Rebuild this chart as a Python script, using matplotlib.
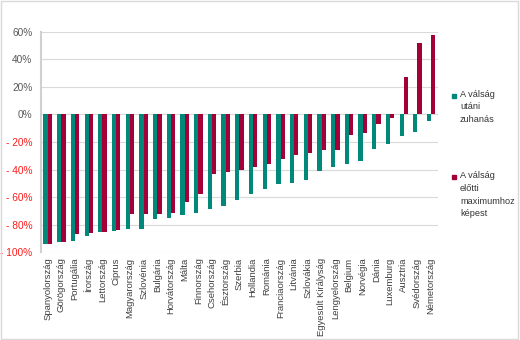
import matplotlib.pyplot as plt
import matplotlib.patches as mpatches
import numpy as np

plt.rcParams['font.family'] = ['Liberation Sans', 'DejaVu Sans']

# Countries (Hungarian names)
countries = ['Spanyolország', 'Görögország', 'Portugália', 'Írország', 'Lettország',
             'Ciprus', 'Magyarország', 'Szlovénia', 'Bulgária', 'Horvátország',
             'Málta', 'Finnország', 'Csehország', 'Észtország', 'Szerbia',
             'Hollandia', 'Románia', 'Franciaország', 'Litvánia', 'Szlovákia',
             'Egyesült Királyság', 'Lengyelország', 'Belgium', 'Norvégia', 'Dánia',
             'Luxemburg', 'Ausztria', 'Svédország', 'Németország']

# Fall after the crisis (%)
after_crisis = [-94.3, -93, -92, -88, -85.6, -85, -83, -83, -76, -75,
                -73, -71.3, -68.9, -66.2, -62, -57.7, -54.3, -50.4, -49.9, -47.7,
                -41.1, -38, -36.3, -34, -25, -21.2, -15.3, -12.4, -4.4]

# Compared to the pre-crisis maximum (%)
vs_precrisis_max = [-94, -93, -86.6, -86, -85.5, -84, -72.7, -72.7, -72, -71.5,
                    -63.7, -57.7, -43.1, -41.6, -40.4, -38, -36, -32.4, -29.7, -28.2,
                    -26, -25.5, -14.6, -13.6, -7, -2.2, 27.5, 52.3, 57.7]

yticks = [60, 40, 20, 0, -20, -40, -60, -80, -100]
legend_labels = ['A válság\nutáni\nzuhanás', 'A válság\nelőtti\nmaximumhoz\nképest']

teal = '#00897b'
crimson = '#a3003a'

fig = plt.figure(figsize=(5.2, 3.4), dpi=100)
ax = fig.add_axes([0.0786, 0.2588, 0.7637, 0.6471])

x = np.arange(len(countries))
w = 0.31
ax.bar(x - w / 2, after_crisis, w, color=teal, zorder=3)
ax.bar(x + w / 2, vs_precrisis_max, w, color=crimson, zorder=3)

ax.set_xlim(-0.5, len(countries) - 0.5)
ax.set_ylim(-100, 60)
ax.set_yticks(yticks)
ax.set_yticklabels([f'{v}%' if v >= 0 else f'- {-v}%' for v in yticks], fontsize=7.3)
for lbl, v in zip(ax.get_yticklabels(), yticks):
    lbl.set_color('#595959' if v >= 0 else '#ff1a1a')

ax.set_xticks(x)
ax.set_xticklabels(countries, rotation=90, fontsize=6.8, color='#404040')
ax.tick_params(axis='both', length=0)
ax.tick_params(axis='y', pad=6)
ax.tick_params(axis='x', pad=4)

ax.grid(axis='y', color='#d9d9d9', linewidth=0.8, zorder=0)
for s in ['top', 'right', 'bottom']:
    ax.spines[s].set_visible(False)
ax.spines['left'].set_color('#d0d0d0')
ax.spines['left'].set_linewidth(1.5)

# legend on the right
fig.patches.append(mpatches.Rectangle((451.5 / 520, 1 - 97.5 / 340), 4 / 520, 4 / 340,
                                      transform=fig.transFigure, color=teal))
fig.text(460 / 520, 1 - 90 / 340, legend_labels[0], fontsize=6.6, color='#333333',
         va='top', ha='left', linespacing=1.5)
fig.patches.append(mpatches.Rectangle((451.5 / 520, 1 - 179 / 340), 4 / 520, 4 / 340,
                                      transform=fig.transFigure, color=crimson))
fig.text(460 / 520, 1 - 171.5 / 340, legend_labels[1], fontsize=6.6, color='#333333',
         va='top', ha='left', linespacing=1.5)

# chart border
fig.patches.append(mpatches.Rectangle((0.002, 0.003), 0.994, 0.994, transform=fig.transFigure,
                                      fill=False, edgecolor='#d9d9d9', linewidth=1))

fig.savefig('out.png', dpi=100)
